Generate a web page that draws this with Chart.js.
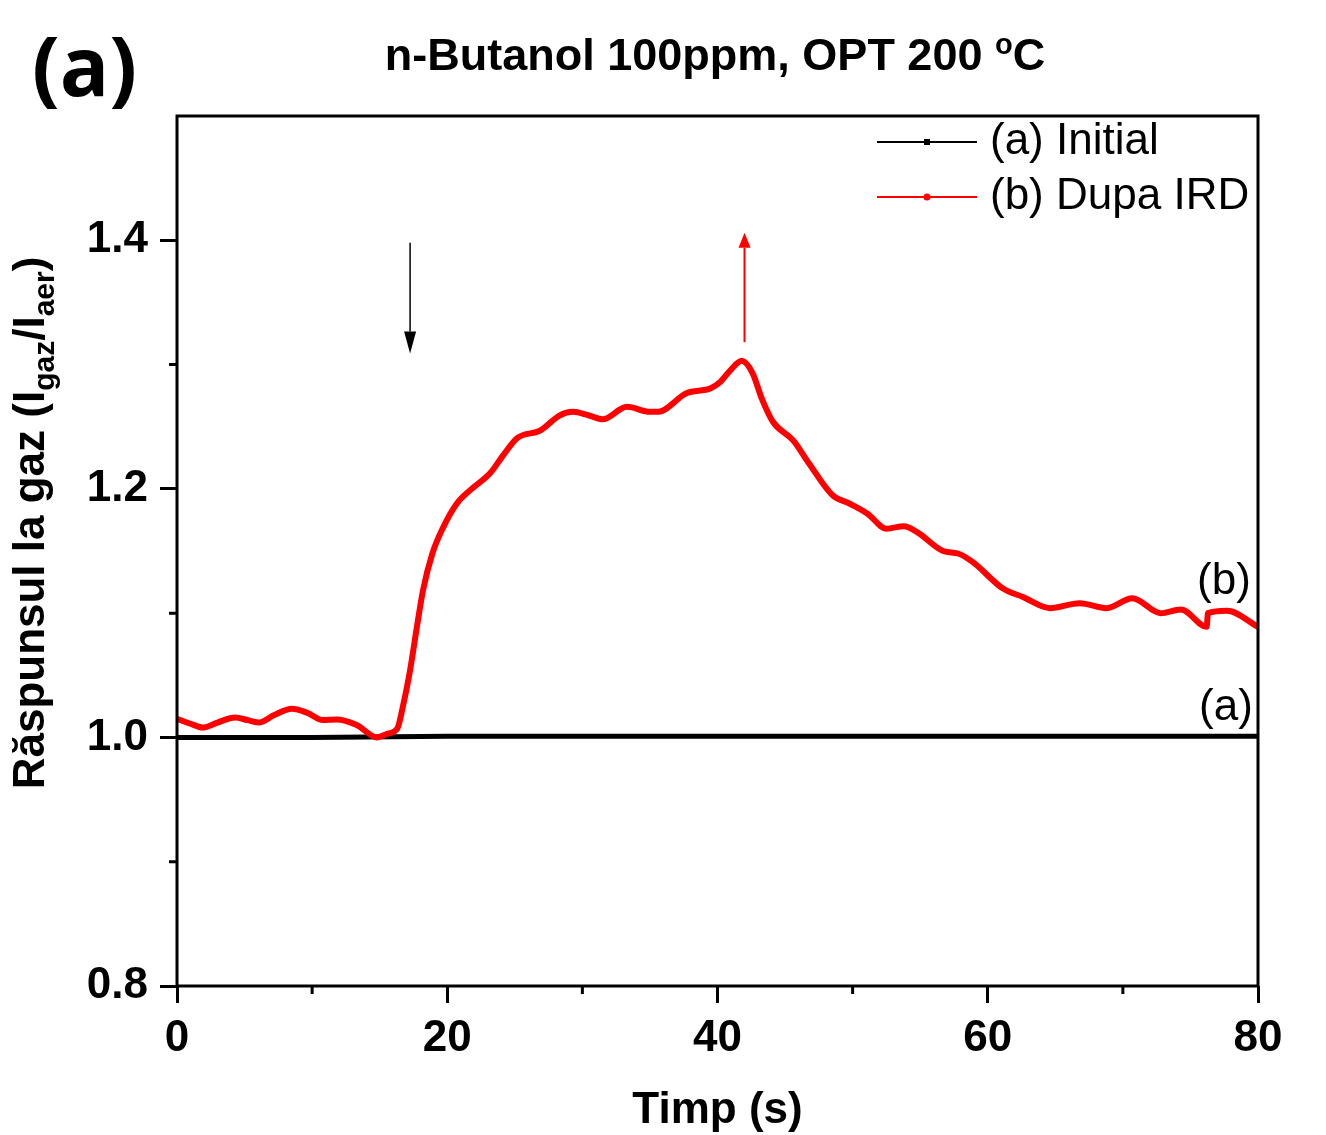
<!DOCTYPE html>
<html>
<head>
<meta charset="utf-8">
<script src="https://cdn.jsdelivr.net/npm/chart.js@4.4.1/dist/chart.umd.min.js"></script>
<style>
  html, body { margin: 0; padding: 0; background: #fff; }
  canvas { display: block; }
</style>
</head>
<body>
<canvas id="gascanvas" width="1326" height="1135"></canvas>
<script>
// curve (a) Initial - flat at ~1.0
let timeInitial = [0, 10, 20, 30, 40, 50, 60, 70, 80];
let valInitial = [1.000, 1.000, 1.001, 1.001, 1.001, 1.001, 1.001, 1.001, 1.001];

// curve (b) Dupa IRD
let timeIRD = [0, 1, 1.9, 3, 4.3, 5.2, 6.1, 7.2, 8.5, 9.6, 10.8, 11.8, 13.3, 14.8, 15.6, 16.3,
    16.7, 17.2, 17.8, 18.2, 18.9, 19.7, 20.7, 21.7, 23.2, 24.2, 25.2, 26.9, 28.3, 29.3, 30.5,
    31.5, 33.3, 35.0, 35.6, 37.7, 39.5, 40.2, 41.0, 41.8, 42.6, 43.3, 44.1, 45.6, 46.8, 48.5,
    49.8, 51.1, 52.5, 53.8, 54.8, 56.7, 57.8, 58.9, 61.1, 62.6, 64.6, 66.8, 68.8, 70.7, 72.8,
    74.3, 76.2, 76.3, 77.7, 80];
let valIRD = [1.015, 1.011, 1.008, 1.012, 1.016, 1.014, 1.012, 1.018, 1.023, 1.020, 1.014, 1.0145, 1.010, 1.000, 1.003, 1.007,
    1.024, 1.051, 1.092, 1.118, 1.148, 1.169, 1.188, 1.199, 1.213, 1.228, 1.241, 1.247, 1.259, 1.262, 1.259,
    1.256, 1.266, 1.262, 1.262, 1.277, 1.281, 1.286, 1.296, 1.303, 1.293, 1.272, 1.254, 1.239, 1.220, 1.195,
    1.188, 1.180, 1.168, 1.170, 1.165, 1.150, 1.148, 1.141, 1.120, 1.113, 1.104, 1.108, 1.104, 1.112, 1.100,
    1.103, 1.089, 1.100, 1.102, 1.089];

let xTicks = [0, 20, 40, 60, 80];
let xMinorTicks = [10, 30, 50, 70];
let yTicks = [0.8, 1.0, 1.2, 1.4];
let yMinorTicks = [0.9, 1.1, 1.3];

let legendLabels = ["(a) Initial", "(b) Dupa IRD"];
let lineColors = ["#000000", "#ff0000"];

function toPoints(xs, ys) {
    return xs.map(function(x, i) { return { x: x, y: ys[i] }; });
}

// extra drawing: box, minor ticks, titles, legend, arrows, labels
const decorPlugin = {
    id: 'decor',
    afterDatasetsDraw(chart) {
        let ctx = chart.ctx;
        let a = chart.chartArea;
        let xs = chart.scales.x;
        let ys = chart.scales.y;
        ctx.save();

        // frame
        ctx.strokeStyle = '#000';
        ctx.lineWidth = 3;
        ctx.strokeRect(a.left, a.top, a.right - a.left, a.bottom - a.top);

        // minor ticks (outside)
        ctx.lineWidth = 3;
        ctx.beginPath();
        xMinorTicks.forEach(function(v) {
            let px = xs.getPixelForValue(v);
            ctx.moveTo(px, a.bottom);
            ctx.lineTo(px, a.bottom + 8);
        });
        yMinorTicks.forEach(function(v) {
            let py = ys.getPixelForValue(v);
            ctx.moveTo(a.left, py);
            ctx.lineTo(a.left - 8, py);
        });
        ctx.stroke();

        // arrows
        function arrow(xv, fromV, toV, color, lw) {
            let px = xs.getPixelForValue(xv);
            let p0 = ys.getPixelForValue(fromV);
            let p1 = ys.getPixelForValue(toV);
            let dir = p1 > p0 ? 1 : -1;
            let head = dir > 0 ? 22 : 15;
            ctx.strokeStyle = color;
            ctx.fillStyle = color;
            ctx.lineWidth = lw;
            ctx.beginPath();
            ctx.moveTo(px, p0);
            ctx.lineTo(px, p1 - dir * head);
            ctx.stroke();
            ctx.beginPath();
            ctx.moveTo(px, p1);
            ctx.lineTo(px - 6, p1 - dir * head);
            ctx.lineTo(px + 6, p1 - dir * head);
            ctx.closePath();
            ctx.fill();
        }
        arrow(17.25, 1.398, 1.309, '#000', 1.5);
        arrow(42.0, 1.318, 1.406, '#ff0000', 2);

        // curve labels
        ctx.fillStyle = '#000';
        ctx.font = '44px "Liberation Sans", Arial, sans-serif';
        ctx.textAlign = 'center';
        ctx.textBaseline = 'middle';
        ctx.fillText('(b)', 1224, 582);
        ctx.fillText('(a)', 1226, 708);

        // legend
        ctx.textAlign = 'left';
        legendLabels.forEach(function(lbl, i) {
            let ly = 142 + i * 55;
            ctx.strokeStyle = lineColors[i];
            ctx.fillStyle = lineColors[i];
            ctx.lineWidth = 2;
            ctx.beginPath();
            ctx.moveTo(877, ly);
            ctx.lineTo(977, ly);
            ctx.stroke();
            if (i === 0) {
                ctx.fillRect(924, ly - 3, 6, 6);
            } else {
                ctx.beginPath();
                ctx.arc(927, ly, 3.5, 0, Math.PI * 2);
                ctx.fill();
            }
            ctx.fillStyle = '#000';
            ctx.fillText(lbl, 990, ly);
        });

        // main title with superscript o
        ctx.textBaseline = 'alphabetic';
        let big = 'bold 44px "Liberation Sans", Arial, sans-serif';
        let titleFont = 'bold 45px "Liberation Sans", Arial, sans-serif';
        let small = 'bold 29px "Liberation Sans", Arial, sans-serif';
        let parts = [
            { t: 'n-Butanol 100ppm, OPT 200 ', f: titleFont, dy: 0 },
            { t: 'o', f: small, dy: -16 },
            { t: 'C', f: titleFont, dy: 0 }
        ];
        drawParts(ctx, parts, 715, 70);

        // x title
        ctx.font = big;
        ctx.textAlign = 'center';
        ctx.fillText('Timp (s)', (a.left + a.right) / 2, 1123);
        ctx.textAlign = 'left';

        // y title, rotated, with subscripts
        let sub = 'bold 30px "Liberation Sans", Arial, sans-serif';
        let yparts = [
            { t: 'R\u0103spunsul la gaz (I', f: big, dy: 0 },
            { t: 'gaz', f: sub, dy: 10 },
            { t: '/I', f: big, dy: 0 },
            { t: 'aer', f: sub, dy: 10 },
            { t: ')', f: big, dy: 0 }
        ];
        ctx.save();
        ctx.translate(44, 523);
        ctx.rotate(-Math.PI / 2);
        drawParts(ctx, yparts, 0, 0);
        ctx.restore();

        // panel label
        ctx.font = 'bold 82px "Open Sans", "Liberation Sans", sans-serif';
        ctx.fillStyle = '#000';
        ctx.fillText('(a)', 32, 96);

        ctx.restore();
    }
};

function drawParts(ctx, parts, cx, baseY) {
    let total = 0;
    parts.forEach(function(p) {
        ctx.font = p.f;
        total += ctx.measureText(p.t).width;
    });
    let x = cx - total / 2;
    ctx.textAlign = 'left';
    ctx.fillStyle = '#000';
    parts.forEach(function(p) {
        ctx.font = p.f;
        ctx.fillText(p.t, x, baseY + p.dy);
        x += ctx.measureText(p.t).width;
    });
}

let tickFont = { family: '"Liberation Sans", Arial, sans-serif', size: 44, weight: 'bold' };

let gasChart = new Chart(document.getElementById('gascanvas').getContext('2d'), {
    type: 'line',
    data: {
        datasets: [{
            label: legendLabels[1],
            data: toPoints(timeIRD, valIRD),
            borderColor: lineColors[1],
            borderWidth: 6,
            pointRadius: 0,
            cubicInterpolationMode: 'monotone',
            order: 0
        }, {
            label: legendLabels[0],
            data: toPoints(timeInitial, valInitial),
            borderColor: lineColors[0],
            borderWidth: 5,
            pointRadius: 0,
            order: 1
        }]
    },
    options: {
        responsive: false,
        animation: false,
        devicePixelRatio: 1,
        layout: { padding: { top: 116, right: 68, left: 0, bottom: 0 } },
        plugins: {
            legend: { display: false },
            tooltip: { enabled: false },
            title: { display: false }
        },
        scales: {
            x: {
                type: 'linear',
                min: 0,
                max: 80,
                afterBuildTicks: function(scale) {
                    scale.ticks = xTicks.map(function(v) { return { value: v }; });
                },
                afterFit: function(scale) { scale.height = 149; },
                ticks: {
                    color: '#000',
                    font: tickFont,
                    padding: 9,
                    maxRotation: 0,
                    callback: function(v) { return String(v); }
                },
                grid: {
                    drawOnChartArea: false,
                    drawTicks: true,
                    tickLength: 17,
                    tickWidth: 3,
                    tickColor: '#000'
                },
                border: { display: false }
            },
            y: {
                type: 'linear',
                min: 0.8,
                max: 1.5,
                afterBuildTicks: function(scale) {
                    scale.ticks = yTicks.map(function(v) { return { value: v }; });
                },
                afterFit: function(scale) { scale.width = 177; },
                ticks: {
                    color: '#000',
                    font: tickFont,
                    padding: 12,
                    callback: function(v) { return v.toFixed(1); }
                },
                grid: {
                    drawOnChartArea: false,
                    drawTicks: true,
                    tickLength: 17,
                    tickWidth: 3,
                    tickColor: '#000'
                },
                border: { display: false }
            }
        }
    },
    plugins: [decorPlugin]
});
</script>
</body>
</html>
